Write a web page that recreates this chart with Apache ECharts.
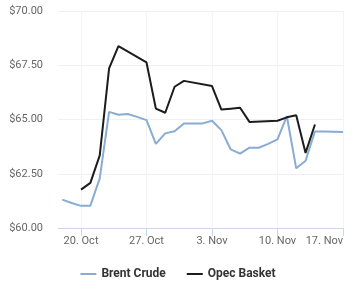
<!DOCTYPE html>
<html>
<head>
<meta charset="utf-8">
<script src="https://cdn.jsdelivr.net/npm/echarts@6/dist/echarts.min.js"></script>
<style>
html,body{margin:0;padding:0;background:#fff;}
#c{width:356px;height:300px;}
</style>
</head>
<body>
<div id="c"></div>
<script>
// Brent Crude (daily, incl. weekends)
var brentDates = ['2025-10-18','2025-10-19','2025-10-20','2025-10-21','2025-10-22','2025-10-23','2025-10-24','2025-10-25','2025-10-26','2025-10-27','2025-10-28','2025-10-29','2025-10-30','2025-10-31','2025-11-01','2025-11-02','2025-11-03','2025-11-04','2025-11-05','2025-11-06','2025-11-07','2025-11-08','2025-11-09','2025-11-10','2025-11-11','2025-11-12','2025-11-13','2025-11-14','2025-11-15','2025-11-16','2025-11-17'];
var brentValues = [61.31,61.15,61.02,61.03,62.29,65.35,65.22,65.25,65.12,64.97,63.88,64.36,64.46,64.82,64.82,64.82,64.94,64.51,63.62,63.43,63.70,63.70,63.88,64.08,65.15,62.75,63.10,64.45,64.45,64.44,64.42];
// Opec Basket (trading days)
var opecDates = ['2025-10-20','2025-10-21','2025-10-22','2025-10-23','2025-10-24','2025-10-27','2025-10-28','2025-10-29','2025-10-30','2025-10-31','2025-11-03','2025-11-04','2025-11-05','2025-11-06','2025-11-07','2025-11-10','2025-11-11','2025-11-12','2025-11-13','2025-11-14'];
var opecValues = [61.77,62.08,63.35,67.36,68.38,67.63,65.50,65.31,66.51,66.78,66.54,65.46,65.50,65.54,64.89,64.94,65.10,65.20,63.46,64.77];
var tickDates = ['2025-10-20','2025-10-27','2025-11-03','2025-11-10','2025-11-17'];
var monthNames = ['Jan','Feb','Mar','Apr','May','Jun','Jul','Aug','Sep','Oct','Nov','Dec'];

function ts(s){ var p = s.split('-'); return Date.UTC(+p[0], +p[1]-1, +p[2]); }
function pairs(d, v){ return d.map(function(x,i){ return [ts(x), v[i]]; }); }
var DAY = 86400000;
var tickVals = tickDates.map(ts);

var chart = echarts.init(document.getElementById('c'), null, {renderer:'canvas'});
chart.setOption({
  animation:false,
  backgroundColor:'#ffffff',
  textStyle:{fontFamily:'Roboto'},
  grid:{left:58, right:13, top:11, bottom:72, containLabel:false},
  xAxis:{
    type:'value',
    min: ts('2025-10-20') - 2.46*DAY,
    max: ts('2025-11-17'),
    axisLine:{show:true, lineStyle:{color:'#ccd6eb', width:1}},
    axisTick:{show:true, length:8, lineStyle:{color:'#ccd6eb'}, customValues: tickVals},
    axisLabel:{
      customValues: tickVals,
      alignMaxLabel:'right',
      color:'#666666', fontSize:11, margin:8, fontFamily:'Roboto',
      formatter:function(v){ var d=new Date(v); return d.getUTCDate()+'. '+monthNames[d.getUTCMonth()]; }
    },
    splitLine:{show:true, lineStyle:{color:'#f4f4f4', width:1}}
  },
  yAxis:{
    type:'value', min:60, max:70, interval:2.5,
    axisLine:{show:false}, axisTick:{show:false},
    axisLabel:{color:'#666666', fontSize:11, margin:15, fontFamily:'Roboto',
      formatter:function(v){ return '$'+v.toFixed(2); }},
    splitLine:{show:true, lineStyle:{color:'#f0f0f0', width:1}}
  },
  legend:{
    bottom:15, left:'center', itemGap:21, itemWidth:16, itemHeight:2, icon:'rect',
    textStyle:{fontSize:12, fontWeight:'bold', color:'#333333', fontFamily:'Roboto'},
    data:['Brent Crude','Opec Basket']
  },
  series:[
    {name:'Brent Crude', type:'line', data:pairs(brentDates, brentValues), symbol:'none',
     lineStyle:{color:'#88acd2', width:2}, itemStyle:{color:'#88acd2'}},
    {name:'Opec Basket', type:'line', data:pairs(opecDates, opecValues), symbol:'none',
     lineStyle:{color:'#1c1c1c', width:2}, itemStyle:{color:'#1c1c1c'}}
  ]
});
</script>
</body>
</html>
